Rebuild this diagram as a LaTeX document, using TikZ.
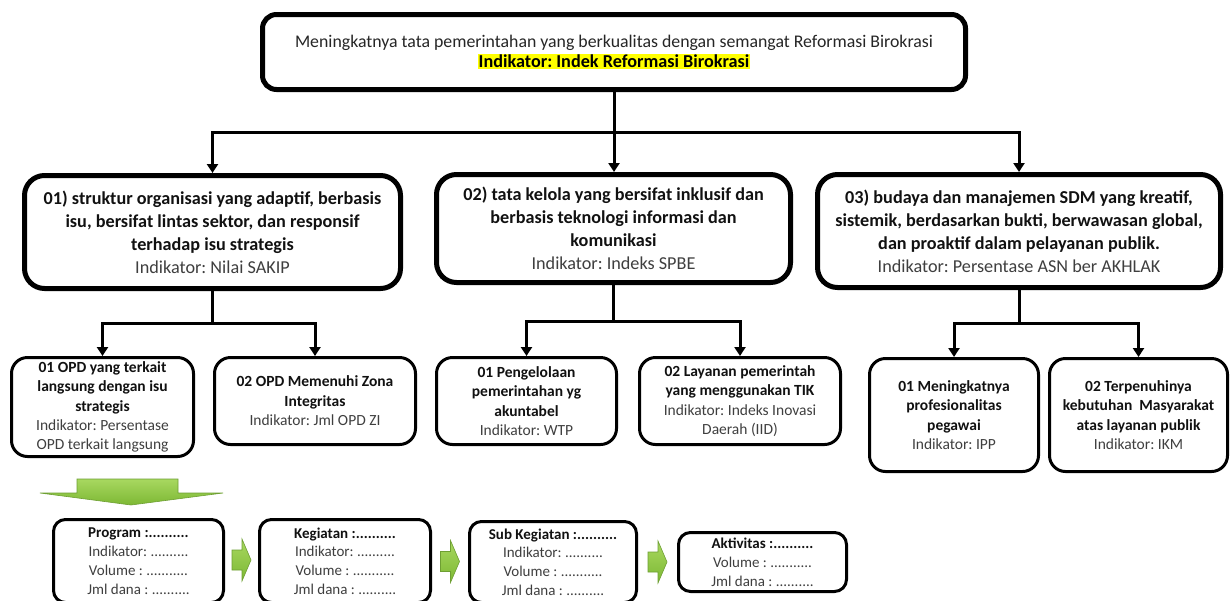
\documentclass[tikz,border=0pt]{standalone}
\usepackage{fontspec}
\setmainfont{Carlito}
\usetikzlibrary{arrows.meta,calc}
\frenchspacing
\definecolor{ink}{HTML}{111111}
\definecolor{indc}{HTML}{3F3F3F}
\definecolor{topc}{HTML}{262626}
\definecolor{hl}{HTML}{FFFF00}
\definecolor{grnA}{HTML}{A8D860}
\definecolor{grnB}{HTML}{7DB834}
\definecolor{grnE}{HTML}{6E9F33}
\newcommand\szTop{\fontsize{17.8}{20}\selectfont}
\newcommand\szHl{\fontsize{18.2}{20}\selectfont}
\newcommand\szMain{\fontsize{18.2}{23}\selectfont}
\newcommand\szSub{\fontsize{15.5}{19.4}\selectfont}
\newcommand\szBot{\fontsize{15}{18.8}\selectfont}
\newcommand\ind[1]{\textcolor{indc}{\mdseries #1}}
\tikzset{
  topbox/.style={draw=black, line width=5pt, rounded corners=14pt, align=center, inner sep=0pt, text=topc, font=\szTop},
  mainbox/.style={draw=black, line width=5pt, rounded corners=20pt, align=center, inner sep=0pt, text=ink, font=\szMain\bfseries},
  subbox/.style={draw=black, line width=3pt, rounded corners=16pt, align=center, inner sep=0pt, text=ink, font=\szSub\bfseries},
  botbox/.style={draw=black, line width=3pt, rounded corners=12pt, align=center, inner sep=0pt, text=ink, font=\szBot\bfseries},
  plainline/.style={line width=3pt, draw=black},
  conn/.style={line width=3pt, draw=black, -{Triangle[width=11pt,length=9pt]}},
  garrow/.style={top color=grnA, bottom color=grnB, draw=grnE, line width=0.6pt},
  blockarr/.pic={\shade[garrow] (-9.5,-10) -- (0.5,-10) -- (0.5,-21) -- (9.5,0) -- (0.5,21) -- (0.5,10) -- (-9.5,10) -- cycle;}
}
\begin{document}
\begin{tikzpicture}[x=1pt,y=-1pt]
\useasboundingbox (0,0) rectangle (1230,600);
\fill[white] (0,0) rectangle (1230,600);

% top
\node[topbox, minimum width=703pt, minimum height=75pt] (top) at (614,52)
  {Meningkatnya tata pemerintahan yang berkualitas dengan semangat Reformasi Birokrasi\\
   {\szHl\setlength\fboxsep{1pt}\colorbox{hl}{\textcolor{black}{\bfseries Indikator: Indek Reformasi Birokrasi}}}};

% level 2
\node[mainbox, minimum width=376pt, minimum height=113pt] (b1) at (212.5,232)
  {01) struktur organisasi yang adaptif, berbasis\\ isu, bersifat lintas sektor, dan responsif\\ terhadap isu strategis\\ \ind{Indikator: Nilai SAKIP}};
\node[mainbox, minimum width=354pt, minimum height=108pt] (b2) at (613.5,228.5)
  {02) tata kelola yang bersifat inklusif dan\\ berbasis teknologi informasi dan\\ komunikasi\\ \ind{Indikator: Indeks SPBE}};
\node[mainbox, minimum width=403pt, minimum height=113pt] (b3) at (1019,231)
  {03) budaya dan manajemen SDM yang kreatif,\\ sistemik, berdasarkan bukti, berwawasan global,\\ dan proaktif dalam pelayanan publik.\\ \ind{Indikator: Persentase ASN ber AKHLAK}};

% level 3
\node[subbox, minimum width=182pt, minimum height=99pt] (s11) at (102.5,407)
  {01 OPD yang terkait\\ langsung dengan isu\\ strategis\\ \ind{Indikator: Persentase}\\ \ind{OPD terkait langsung}};
\node[subbox, minimum width=201pt, minimum height=87pt] (s12) at (315,401)
  {02 OPD Memenuhi Zona\\ Integritas\\ \ind{Indikator: Jml OPD ZI}};
\node[subbox, minimum width=180pt, minimum height=87pt] (s21) at (526.5,401)
  {01 Pengelolaan\\ pemerintahan yg\\ akuntabel\\ \ind{Indikator: WTP}};
\node[subbox, minimum width=201pt, minimum height=87pt] (s22) at (740,401)
  {02 Layanan pemerintah\\ yang menggunakan TIK\\ \ind{Indikator: Indeks Inovasi}\\ \ind{Daerah (IID)}};
\node[subbox, minimum width=169pt, minimum height=113pt] (s31) at (954,415)
  {01 Meningkatnya\\ profesionalitas\\ pegawai\\ \ind{Indikator: IPP}};
\node[subbox, minimum width=178pt, minimum height=113pt] (s32) at (1138.5,415)
  {02 Terpenuhinya\\ kebutuhan\ \ Masyarakat\\ atas layanan publik\\ \ind{Indikator: IKM}};

% bottom row
\node[botbox, minimum width=170pt, minimum height=83pt] (p1) at (138.5,561)
  {Program :..........\\ \ind{Indikator: ..........}\\ \ind{Volume : ...........}\\ \ind{Jml dana : ..........}};
\node[botbox, minimum width=171pt, minimum height=83pt] (p2) at (345,561)
  {Kegiatan :..........\\ \ind{Indikator: ..........}\\ \ind{Volume : ...........}\\ \ind{Jml dana : ..........}};
\node[botbox, minimum width=167pt, minimum height=81pt] (p3) at (553,562)
  {Sub Kegiatan :..........\\ \ind{Indikator: ..........}\\ \ind{Volume : ...........}\\ \ind{Jml dana : ..........}};
\node[botbox, minimum width=168pt, minimum height=59pt] (p4) at (762.5,562)
  {Aktivitas :..........\\ \ind{Volume : ...........}\\ \ind{Jml dana : ..........}};

% connectors
\coordinate (hub) at (614,132);
\draw[plainline] (top.south) -- (hub);
\draw[conn] (hub) -| (b1.north);
\draw[conn] (hub) -- (hub |- b2.north);
\draw[conn] (hub) -| (b3.north);

\coordinate (j1) at (212.5,323);
\draw[plainline] (b1.south) -- (j1);
\draw[conn] (j1) -| (s11.north);
\draw[conn] (j1) -| (s12.north);

\coordinate (j2) at (613.5,321);
\draw[plainline] (b2.south) -- (j2);
\draw[conn] (j2) -| (s21.north);
\draw[conn] (j2) -| (s22.north);

\coordinate (j3) at (1019,323);
\draw[plainline] (b3.south) -- (j3);
\draw[conn] (j3) -| (s31.north);
\draw[conn] (j3) -| (s32.north);

% green arrows
\shade[garrow] (77,479) -- (178,479) -- (178,493) -- (223,493) -- (131,505) -- (40,493) -- (77,493) -- cycle;
\pic at ($(p1.east)!0.5!(p2.west)+(0,-1)$) {blockarr};
\pic at ($(p2.east)!0.5!(p3.west)$) {blockarr};
\pic at ($(p3.east)!0.5!(p4.west)$) {blockarr};
\end{tikzpicture}
\end{document}
